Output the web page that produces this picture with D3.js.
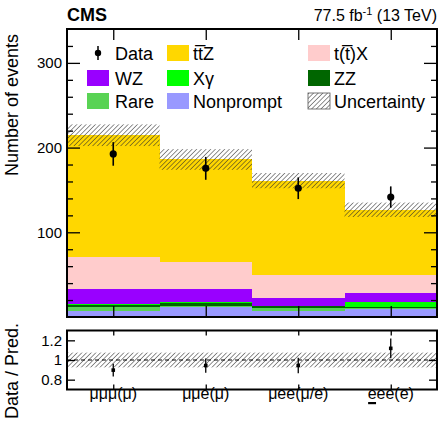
<!DOCTYPE html>
<html>
<head>
<meta charset="utf-8">
<script src="https://cdn.jsdelivr.net/npm/d3@7"></script>
<style>
  body { margin: 0; background: #fff; }
  text { font-family: "Liberation Sans", Arial, Helvetica, sans-serif; fill: #000; }
</style>
</head>
<body>
<svg id="chart" width="442" height="431"></svg>
<script>
// channel categories
var channels = ["\u03bc\u03bc\u03bc(\u03bc)", "\u03bc\u03bce(\u03bc)", "\u03bcee(\u03bc/e)", "eee(e)"];

// stacked predictions, bottom to top
var nonprompt = [7.1, 11.5, 7.5, 9.1];
var rare      = [4.4, 1.9, 3.2, 1.9];
var zz        = [2.3, 2.8, 2.3, 1.2];
var xgamma    = [1.6, 1.6, 0.4, 5.6];
var wz        = [17.4, 15.0, 9.4, 11.0];
var ttx       = [38.6, 32.7, 26.9, 20.2];
var ttz       = [143.2, 120.5, 111.3, 77.6];

var uncertainty = [12.8, 12.2, 9.0, 8.5];
var ratioUnc    = [0.075, 0.075, 0.075, 0.075];

var dataVals = [192.5, 175.5, 152, 141.6];
var dataErrs = [13.9, 13.5, 12.8, 12.6];

var yTicks = [100, 200, 300];
var ratioTicks = [0.8, 1, 1.2];

var procs = [
  {key: "nonprompt", vals: nonprompt, color: "#9999ff", label: "Nonprompt"},
  {key: "rare",      vals: rare,      color: "#59d354", label: "Rare"},
  {key: "zz",        vals: zz,        color: "#006600", label: "ZZ"},
  {key: "xgamma",    vals: xgamma,    color: "#00ff00", label: "X\u03b3"},
  {key: "wz",        vals: wz,        color: "#9900ff", label: "WZ"},
  {key: "ttx",       vals: ttx,       color: "#ffcccc", label: "t(t\u0305)X"},
  {key: "ttz",       vals: ttz,       color: "#ffd700", label: "tt\u0305Z"}
];

var svg = d3.select("#chart");
var L = 67, R = 437, T = 29, B = 317, RT = 330.5, RB = 389.5;

var x = d3.scaleLinear().domain([0, 4]).range([L, R]);
var y = d3.scaleLinear().domain([0, 340]).range([B, T]);
var yr = d3.scaleLinear().domain([0.7, 1.3]).range([RB, RT]);

var rows = channels.map(function(c, i) {
  var r = {i: i};
  procs.forEach(function(p) { r[p.key] = p.vals[i]; });
  return r;
});
var totals = rows.map(function(r) { return d3.sum(procs, function(p) { return r[p.key]; }); });

var stack = d3.stack().keys(procs.map(function(p) { return p.key; }));
var series = stack(rows);

// hatch pattern
var defs = svg.append("defs");
var pat = defs.append("pattern")
    .attr("id", "hatch")
    .attr("patternUnits", "userSpaceOnUse")
    .attr("width", 3.3).attr("height", 10)
    .attr("patternTransform", "rotate(45)");
pat.append("line").attr("x1", 0).attr("y1", 0).attr("x2", 0).attr("y2", 10)
    .attr("stroke", "#2a2a2a").attr("stroke-width", 1.05);

// stacked bars
var gStack = svg.append("g");
series.forEach(function(s, k) {
  gStack.selectAll(null)
    .data(s)
    .enter().append("rect")
      .attr("x", function(d, i) { return x(i); })
      .attr("width", function(d, i) { return x(i + 1) - x(i); })
      .attr("y", function(d) { return y(d[1]); })
      .attr("height", function(d) { return Math.max(0, y(d[0]) - y(d[1])); })
      .attr("fill", procs[k].color)
      .attr("shape-rendering", "crispEdges");
});

// uncertainty
svg.append("g").selectAll("rect")
  .data(totals)
  .enter().append("rect")
    .attr("x", function(d, i) { return x(i); })
    .attr("width", function(d, i) { return x(i + 1) - x(i); })
    .attr("y", function(d, i) { return y(d + uncertainty[i]); })
    .attr("height", function(d, i) { return y(d - uncertainty[i]) - y(d + uncertainty[i]); })
    .attr("fill", "url(#hatch)");

// data points
var gData = svg.append("g");
gData.selectAll("line")
  .data(dataVals)
  .enter().append("line")
    .attr("x1", function(d, i) { return x(i + 0.5); })
    .attr("x2", function(d, i) { return x(i + 0.5); })
    .attr("y1", function(d, i) { return y(d - dataErrs[i]); })
    .attr("y2", function(d, i) { return y(d + dataErrs[i]); })
    .attr("stroke", "#000").attr("stroke-width", 1.6);
gData.selectAll("circle")
  .data(dataVals)
  .enter().append("circle")
    .attr("cx", function(d, i) { return x(i + 0.5); })
    .attr("cy", function(d) { return y(d); })
    .attr("r", 3.6).attr("fill", "#000");

// axes main
function styleAxis(g) {
  g.select(".domain").remove();
  g.selectAll(".tick line").attr("stroke", "#000").attr("stroke-width", 1.3);
  g.selectAll(".tick text").style("font-size", "15px").attr("fill", "#000");
}
var minor = d3.range(20, 340, 20).filter(function(v) { return yTicks.indexOf(v) < 0; });
svg.append("g").attr("transform", "translate(" + L + ",0)")
  .call(d3.axisLeft(y).tickValues(yTicks).tickSize(-13).tickPadding(5))
  .call(styleAxis);
svg.append("g").attr("transform", "translate(" + L + ",0)")
  .call(d3.axisLeft(y).tickValues(minor).tickSize(-6).tickFormat(""))
  .call(styleAxis);
svg.append("g").attr("transform", "translate(" + R + ",0)")
  .call(d3.axisRight(y).tickValues(yTicks).tickSize(-13).tickFormat(""))
  .call(styleAxis);
svg.append("g").attr("transform", "translate(" + R + ",0)")
  .call(d3.axisRight(y).tickValues(minor).tickSize(-6).tickFormat(""))
  .call(styleAxis);
var centers = [0.5, 1.5, 2.5, 3.5];
svg.append("g").attr("transform", "translate(0," + T + ")")
  .call(d3.axisTop(x).tickValues(centers).tickSize(-11).tickFormat(""))
  .call(styleAxis);
svg.append("g").attr("transform", "translate(0," + B + ")")
  .call(d3.axisBottom(x).tickValues(centers).tickSize(-11).tickFormat(""))
  .call(styleAxis);

svg.append("rect").attr("x", L).attr("y", T).attr("width", R - L).attr("height", B - T)
  .attr("fill", "none").attr("stroke", "#000").attr("stroke-width", 2);

// ratio panel
svg.append("g").selectAll("rect")
  .data(ratioUnc)
  .enter().append("rect")
    .attr("x", function(d, i) { return x(i); })
    .attr("width", function(d, i) { return x(i + 1) - x(i); })
    .attr("y", function(d) { return yr(1 + d); })
    .attr("height", function(d) { return yr(1 - d) - yr(1 + d); })
    .attr("fill", "url(#hatch)");
svg.append("line").attr("x1", L).attr("x2", R).attr("y1", yr(1)).attr("y2", yr(1))
  .attr("stroke", "#000").attr("stroke-width", 1).attr("stroke-dasharray", "4,3");

var ratios = dataVals.map(function(d, i) { return d / totals[i]; });
var ratioErrs = dataErrs.map(function(e, i) { return e / totals[i]; });
var gR = svg.append("g");
gR.selectAll("line")
  .data(ratios)
  .enter().append("line")
    .attr("x1", function(d, i) { return x(i + 0.5); })
    .attr("x2", function(d, i) { return x(i + 0.5); })
    .attr("y1", function(d, i) { return yr(d - ratioErrs[i]); })
    .attr("y2", function(d, i) { return yr(d + ratioErrs[i]); })
    .attr("stroke", "#000").attr("stroke-width", 1.3);
gR.selectAll("rect")
  .data(ratios)
  .enter().append("rect")
    .attr("x", function(d, i) { return x(i + 0.5) - 1.8; })
    .attr("y", function(d) { return yr(d) - 1.8; })
    .attr("width", 3.6).attr("height", 3.6).attr("fill", "#000");

svg.append("g").attr("transform", "translate(" + L + ",0)")
  .call(d3.axisLeft(yr).tickValues(ratioTicks).tickSize(-8).tickPadding(5)
    .tickFormat(function(d) { return d === 1 ? "1" : d3.format(".1f")(d); }))
  .call(styleAxis);
svg.append("g").attr("transform", "translate(" + R + ",0)")
  .call(d3.axisRight(yr).tickValues(ratioTicks).tickSize(-8).tickFormat(""))
  .call(styleAxis);
svg.append("g").attr("transform", "translate(0," + RT + ")")
  .call(d3.axisTop(x).tickValues(centers).tickSize(-5).tickFormat(""))
  .call(styleAxis);
svg.append("g").attr("transform", "translate(0," + RB + ")")
  .call(d3.axisBottom(x).tickValues(centers).tickSize(-5).tickFormat(""))
  .call(styleAxis);
svg.append("rect").attr("x", L).attr("y", RT).attr("width", R - L).attr("height", RB - RT)
  .attr("fill", "none").attr("stroke", "#000").attr("stroke-width", 2);

// channel labels
var labs = svg.append("g").selectAll("text")
  .data(channels)
  .enter().append("text")
    .attr("x", function(d, i) { return x(i + 0.5); })
    .attr("y", 399)
    .attr("text-anchor", "middle")
    .style("font-size", "16px")
    .text(function(d) { return d; });
// underline the first e of the last label
var lastLab = labs.nodes()[3];
var ext = lastLab.getExtentOfChar(0);
svg.append("rect").attr("x", ext.x + 0.5).attr("y", 402).attr("width", ext.width - 1).attr("height", 2.2)
  .attr("fill", "#000");

// axis titles
svg.append("text").attr("transform", "translate(18,105) rotate(-90)")
  .attr("text-anchor", "middle").style("font-size", "18px").text("Number of events");
svg.append("text").attr("transform", "translate(18,371) rotate(-90)")
  .attr("text-anchor", "middle").style("font-size", "18px").text("Data / Pred.");

// header
svg.append("text").attr("x", L).attr("y", 21).style("font-size", "18px")
  .style("font-weight", "bold").text("CMS");
var lumi = svg.append("text").attr("x", R).attr("y", 21).attr("text-anchor", "end")
  .style("font-size", "16px");
lumi.append("tspan").text("77.5 fb");
lumi.append("tspan").attr("dy", -6).style("font-size", "11px").text("-1");
lumi.append("tspan").attr("dy", 6).text(" (13 TeV)");

// legend
var legendItems = [
  {label: "Data", type: "data"},
  {label: procs[6].label, color: procs[6].color},
  {label: procs[5].label, color: procs[5].color},
  {label: procs[4].label, color: procs[4].color},
  {label: procs[3].label, color: procs[3].color},
  {label: procs[2].label, color: procs[2].color},
  {label: procs[1].label, color: procs[1].color},
  {label: procs[0].label, color: procs[0].color},
  {label: "Uncertainty", type: "unc"}
];
var colX = [87, 167, 308], rowY = [53, 78, 101];
var leg = svg.append("g");
legendItems.forEach(function(it, k) {
  var cx = colX[k % 3], cy = rowY[Math.floor(k / 3)];
  var g = leg.append("g");
  if (it.type === "data") {
    g.append("line").attr("x1", cx + 11).attr("x2", cx + 11).attr("y1", cy - 7).attr("y2", cy + 7)
      .attr("stroke", "#000").attr("stroke-width", 1.5);
    g.append("circle").attr("cx", cx + 11).attr("cy", cy).attr("r", 3.2).attr("fill", "#000");
  } else if (it.type === "unc") {
    g.append("rect").attr("x", cx).attr("y", cy - 8).attr("width", 22).attr("height", 16)
      .attr("fill", "url(#hatch)").attr("stroke", "#555").attr("stroke-width", 0.8);
  } else {
    g.append("rect").attr("x", cx).attr("y", cy - 8).attr("width", 22).attr("height", 16)
      .attr("fill", it.color);
  }
  g.append("text").attr("x", cx + (k % 3 === 0 ? 28 : 26)).attr("y", cy + 6.5)
    .style("font-size", "18px").text(it.label);
});
</script>
</body>
</html>
